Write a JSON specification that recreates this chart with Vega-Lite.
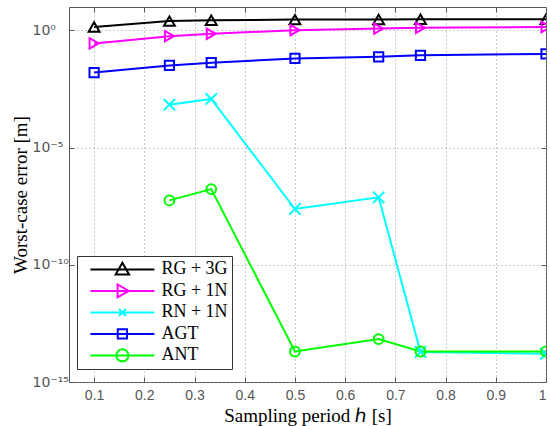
{
  "$schema": "https://vega.github.io/schema/vega-lite/v6.json",
  "width": 477,
  "height": 375,
  "autosize": {"type": "none"},
  "padding": {"left": 69, "top": 7, "right": 4, "bottom": 44},
  "background": "white",
  "config": {
    "view": {"stroke": "#555", "strokeWidth": 1},
    "font": "Liberation Serif"
  },
  "data": {
    "values": [
      {"series": "RG + 3G", "h": 0.1, "err": 1.4},
      {"series": "RG + 3G", "h": 0.25, "err": 2.5},
      {"series": "RG + 3G", "h": 0.3333, "err": 2.7},
      {"series": "RG + 3G", "h": 0.5, "err": 2.9},
      {"series": "RG + 3G", "h": 0.6667, "err": 2.95},
      {"series": "RG + 3G", "h": 0.75, "err": 3.0},
      {"series": "RG + 3G", "h": 1.0, "err": 3.0},
      {"series": "RG + 1N", "h": 0.1, "err": 0.28},
      {"series": "RG + 1N", "h": 0.25, "err": 0.57},
      {"series": "RG + 1N", "h": 0.3333, "err": 0.72},
      {"series": "RG + 1N", "h": 0.5, "err": 1.03},
      {"series": "RG + 1N", "h": 0.6667, "err": 1.2},
      {"series": "RG + 1N", "h": 0.75, "err": 1.3},
      {"series": "RG + 1N", "h": 1.0, "err": 1.4},
      {"series": "RN + 1N", "h": 0.25, "err": 0.00068},
      {"series": "RN + 1N", "h": 0.3333, "err": 0.0012},
      {"series": "RN + 1N", "h": 0.5, "err": 2.4e-8},
      {"series": "RN + 1N", "h": 0.6667, "err": 7.6e-8},
      {"series": "RN + 1N", "h": 0.75, "err": 1.9e-14},
      {"series": "RN + 1N", "h": 1.0, "err": 1.6e-14},
      {"series": "AGT", "h": 0.1, "err": 0.016},
      {"series": "AGT", "h": 0.25, "err": 0.032},
      {"series": "AGT", "h": 0.3333, "err": 0.042},
      {"series": "AGT", "h": 0.5, "err": 0.064},
      {"series": "AGT", "h": 0.6667, "err": 0.075},
      {"series": "AGT", "h": 0.75, "err": 0.087},
      {"series": "AGT", "h": 1.0, "err": 0.1},
      {"series": "ANT", "h": 0.25, "err": 5.6e-8},
      {"series": "ANT", "h": 0.3333, "err": 1.7e-7},
      {"series": "ANT", "h": 0.5, "err": 2.0e-14},
      {"series": "ANT", "h": 0.6667, "err": 6.8e-14},
      {"series": "ANT", "h": 0.75, "err": 2.0e-14},
      {"series": "ANT", "h": 1.0, "err": 2.0e-14}
    ]
  },
  "resolve": {"axis": {"x": "independent", "y": "independent"}},
  "layer": [
    {
      "mark": {"type": "line", "strokeWidth": 2, "clip": true},
      "encoding": {
        "x": {
          "field": "h", "type": "quantitative",
          "scale": {"domain": [0.05, 1], "nice": false, "zero": false},
          "axis": {
            "title": "Sampling period ℎ [s]",
            "titleFont": "Liberation Serif", "titleFontSize": 19, "titleFontWeight": "normal", "titleColor": "#000",
            "titlePadding": 4,
            "values": [0.1, 0.2, 0.3, 0.4, 0.5, 0.6, 0.7, 0.8, 0.9, 1.0],
            "labelExpr": "format(datum.value, '~g')",
            "labelFont": "Liberation Sans", "labelFontSize": 14, "labelColor": "#555",
            "labelPadding": 11,
            "tickSize": -5, "tickColor": "#555",
            "domain": false,
            "grid": true, "gridDash": [1, 3], "gridColor": "#999", "gridOpacity": 1
          }
        },
        "y": {
          "field": "err", "type": "quantitative",
          "scale": {"type": "log", "domain": [1e-15, 10], "nice": false},
          "axis": {
            "title": "Worst-case error [m]",
            "titleFont": "Liberation Serif", "titleFontSize": 19, "titleFontWeight": "normal", "titleColor": "#000",
            "titlePadding": 2,
            "values": [1e-15, 1e-10, 1e-5, 1],
            "labelExpr": "{'0': '10⁰', '-5': '10⁻⁵', '-10': '10⁻¹⁰', '-15': '10⁻¹⁵'}[toString(round(log(datum.value) / LN10))]",
            "labelFont": "DejaVu Sans", "labelFontSize": 14, "labelColor": "#555",
            "labelAlign": "left",
            "labelPadding": 42,
            "tickSize": -5, "tickColor": "#555",
            "domain": false,
            "grid": true, "gridDash": [1, 3], "gridColor": "#999", "gridOpacity": 1
          }
        },
        "color": {
          "field": "series", "type": "nominal",
          "scale": {
            "domain": ["RG + 3G", "RG + 1N", "RN + 1N", "AGT", "ANT"],
            "range": ["#000000", "#ff00ff", "#00ffff", "#0000ff", "#00ff00"]
          },
          "legend": {
            "title": null,
            "orient": "none",
            "legendX": 8,
            "legendY": 249,
            "padding": 4.4,
            "strokeColor": "#333",
            "fillColor": "white",
            "symbolSize": 4096,
            "symbolStrokeWidth": 2,
            "symbolFillColor": "transparent",
            "symbolOffset": 8,
            "clipHeight": 18,
            "rowPadding": 3.5,
            "labelOffset": 6,
            "labelFont": "Liberation Serif",
            "labelFontSize": 18,
            "labelColor": "#000",
            "labelLimit": 200,
            "encode": {
              "symbols": {
                "update": {
                  "shape": {"signal": "datum.value === 'RG + 3G' ? 'M-1,0H1M0,-0.21L0.21,0.16L-0.21,0.16Z' : datum.value === 'RG + 1N' ? 'M-1,0H1M-0.15,-0.2L0.2,0L-0.15,0.2Z' : datum.value === 'RN + 1N' ? 'M-1,0H1M-0.11,-0.11L0.11,0.11M-0.11,0.11L0.11,-0.11' : datum.value === 'AGT' ? 'M-1,0H1M-0.145,-0.145H0.145V0.145H-0.145Z' : 'M-1,0H1M0.19,0A0.19,0.19,0,1,1,-0.19,0A0.19,0.19,0,1,1,0.19,0'"},
                  "size": {"value": 4096},
                  "fill": {"value": "transparent"},
                  "strokeWidth": {"value": 2}
                }
              }
            }
          }
        }
      }
    },
    {
      "mark": {"type": "point", "filled": false, "strokeWidth": 2, "opacity": 1, "clip": true},
      "encoding": {
        "x": {
          "field": "h", "type": "quantitative",
          "axis": {
            "orient": "top", "title": null, "labels": false, "grid": false, "domain": false,
            "values": [0.1, 0.2, 0.3, 0.4, 0.5, 0.6, 0.7, 0.8, 0.9, 1.0],
            "tickSize": -5, "tickColor": "#555"
          }
        },
        "y": {
          "field": "err", "type": "quantitative",
          "axis": {
            "orient": "right", "title": null, "labels": false, "grid": false, "domain": false,
            "values": [1e-15, 1e-10, 1e-5, 1],
            "tickSize": -5, "tickColor": "#555"
          }
        },
        "color": {"field": "series", "type": "nominal", "legend": null},
        "shape": {
          "field": "series", "type": "nominal",
          "scale": {
            "domain": ["ANT", "AGT", "RN + 1N", "RG + 1N", "RG + 3G"],
            "range": ["circle", "square", "M-1,-1L1,1M-1,1L1,-1", "triangle-right", "triangle-up"]
          },
          "legend": null
        },
        "size": {
          "field": "series", "type": "nominal",
          "scale": {
            "domain": ["AGT", "ANT", "RG + 1N", "RG + 3G", "RN + 1N"],
            "range": [85, 130, 150, 150, 55]
          },
          "legend": null
        }
      }
    }
  ]
}
